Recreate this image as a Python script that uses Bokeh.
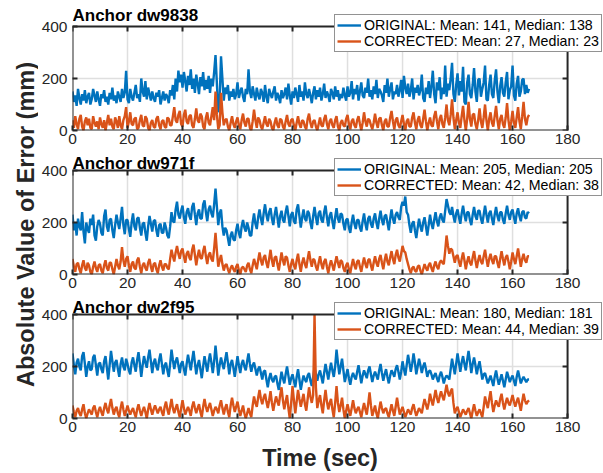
import math
from bokeh.plotting import figure
from bokeh.layouts import row, column
from bokeh.models import Legend, LegendItem, Label, FixedTicker, Range1d
from bokeh.embed import file_html
from bokeh.resources import INLINE

FONT = "Liberation Sans"
BLUE = "#0072BD"
ORANGE = "#D95319"
AX = "#262626"
GRID = "#dfdfdf"

anchors = ["dw9838", "dw971f", "dw2f95"]
orig_mean = [141, 205, 180]
orig_median = [138, 205, 181]
corr_mean = [27, 42, 44]
corr_median = [23, 38, 39]
x_lim = [0, 180]
y_lim = [0, 400]
x_ticks = [0, 20, 40, 60, 80, 100, 120, 140, 160, 180]
y_ticks = [0, 200, 400]
DT = 0.5  # sampling step of the series (sec)

orig_dw9838 = [
    150, 110, 135, 95, 160, 125, 100, 140, 115, 155, 105, 130, 145, 100, 120, 160, 135, 110, 150, 120,
    95, 140, 125, 155, 110, 130, 100, 145, 120, 165, 115, 135, 105, 150, 130, 110, 160, 125, 145, 230,
    120, 105, 160, 130, 115, 145, 175, 125, 140, 110, 200, 150, 130, 190, 120, 165, 140, 115, 150, 125,
    110, 145, 130, 155, 100, 125, 150, 115, 140, 130, 105, 155, 135, 175, 120, 200, 150, 230, 185, 215,
    165, 225, 190, 150, 210, 175, 235, 160, 200, 145, 215, 180, 140, 205, 170, 225, 155, 195, 160, 210,
    145, 200, 170, 225, 290, 180, 70, 120, 285, 200, 115, 165, 140, 175, 115, 150, 130, 160, 120, 140,
    185, 125, 150, 165, 130, 110, 160, 140, 235, 150, 125, 170, 140, 115, 165, 135, 120, 160, 145, 110,
    175, 130, 105, 160, 140, 125, 150, 170, 115, 145, 130, 105, 155, 125, 140, 165, 120, 180, 135, 100,
    150, 125, 165, 140, 110, 175, 130, 150, 115, 185, 140, 125, 160, 135, 105, 145, 170, 120, 155, 130,
    165, 115, 140, 180, 125, 150, 135, 110, 160, 145, 120, 170, 130, 155, 115, 140, 125, 165, 135, 115,
    170, 130, 145, 190, 120, 160, 140, 175, 115, 150, 185, 135, 125, 165, 145, 200, 130, 155, 120, 170,
    140, 195, 125, 160, 150, 135, 110, 175, 145, 200, 130, 160, 185, 120, 150, 140, 175, 130, 155, 195,
    125, 210, 165, 140, 180, 130, 155, 200, 120, 165, 145, 175, 135, 155, 215, 125, 110, 165, 140, 190,
    125, 170, 230, 140, 105, 185, 155, 205, 120, 165, 140, 250, 130, 180, 155, 200, 260, 140, 110, 175,
    220, 135, 190, 150, 245, 110, 100, 185, 215, 140, 125, 175, 240, 150, 110, 195, 200, 130, 160, 185,
    250, 120, 115, 175, 215, 140, 125, 190, 235, 150, 105, 170, 205, 145, 130, 185, 225, 120, 155, 170,
    250, 135, 115, 180, 210, 130, 150, 195, 200, 140, 175, 145, 160,
]
corr_dw9838 = [
    40, 10, 55, 25, 5, 45, 60, 15, 0, 35, 50, 20, 45, 10, 5, 55, 30, 15, 35, 5,
    50, 25, 10, 40, 0, 30, 60, 20, 45, 15, 5, 50, 35, 10, 55, 20, 5, 40, 55, 90,
    10, 35, 70, 25, 20, 45, 50, 5, 10, 40, 60, 20, 15, 55, 45, 10, 0, 30, 40, 15,
    10, 45, 55, 20, 5, 35, 40, 15, 10, 50, 45, 20, 20, 55, 90, 40, 30, 60, 75, 25,
    15, 60, 80, 35, 25, 55, 60, 20, 10, 45, 85, 40, 30, 65, 55, 15, 5, 50, 70, 30,
    20, 55, 90, 40, 150, 60, 5, 20, 145, 70, 20, 40, 45, 15, 0, 30, 55, 25, 10, 35,
    50, 20, 5, 40, 65, 30, 15, 45, 45, 10, 0, 35, 80, 40, 10, 50, 40, 15, 5, 30,
    55, 25, 15, 45, 35, 10, 0, 30, 50, 20, 10, 45, 40, 15, 5, 35, 60, 25, 15, 40,
    45, 20, 0, 30, 55, 25, 10, 40, 35, 15, 5, 45, 65, 30, 10, 35, 40, 15, 0, 25,
    50, 20, 15, 45, 60, 25, 5, 35, 45, 20, 10, 40, 55, 15, 0, 30, 40, 20, 15, 45,
    60, 25, 5, 35, 45, 20, 10, 40, 55, 25, 0, 30, 70, 35, 15, 45, 40, 20, 5, 30,
    65, 30, 10, 45, 50, 20, 0, 35, 45, 15, 15, 50, 75, 35, 5, 40, 50, 20, 10, 35,
    60, 25, 0, 35, 45, 15, 15, 50, 70, 30, 5, 40, 55, 20, 10, 45, 80, 35, 0, 30,
    50, 20, 15, 55, 75, 35, 5, 45, 60, 25, 10, 50, 100, 40, 20, 60, 120, 50, 5, 40,
    70, 30, 10, 55, 95, 40, 0, 45, 110, 45, 15, 60, 65, 25, 5, 40, 85, 35, 10, 50,
    100, 40, 0, 45, 70, 30, 15, 55, 95, 40, 5, 45, 60, 25, 10, 50, 105, 40, 0, 35,
    75, 30, 10, 50, 90, 35, 5, 55, 110, 45, 20, 50, 60,
]
orig_dw971f = [
    230, 170, 200, 150, 215, 185, 170, 240, 165, 120, 200, 175, 160, 215, 190, 230, 150, 130, 185, 210,
    195, 160, 150, 225, 250, 185, 165, 210, 215, 170, 140, 190, 230, 200, 175, 215, 260, 190, 155, 210,
    210, 175, 145, 200, 235, 185, 170, 215, 220, 180, 150, 195, 200, 160, 130, 185, 225, 195, 165, 205,
    210, 170, 145, 190, 195, 160, 160, 200, 180, 150, 140, 185, 240, 205, 200, 250, 280, 230, 215, 245,
    265, 220, 195, 240, 255, 225, 210, 260, 275, 230, 190, 235, 250, 215, 215, 270, 285, 240, 205, 250,
    265, 235, 220, 270, 330, 260, 190, 235, 250, 185, 150, 180, 170, 140, 110, 150, 165, 135, 130, 170,
    195, 160, 140, 185, 210, 180, 165, 200, 180, 150, 150, 200, 235, 195, 175, 220, 250, 215, 190, 235,
    270, 230, 205, 240, 255, 215, 190, 230, 260, 220, 180, 225, 245, 210, 200, 240, 265, 225, 185, 230,
    240, 205, 195, 250, 270, 225, 180, 220, 250, 215, 205, 245, 235, 200, 175, 225, 260, 220, 190, 235,
    245, 210, 200, 240, 265, 220, 185, 225, 240, 205, 175, 220, 255, 215, 200, 235, 230, 195, 170, 210,
    215, 180, 160, 200, 230, 195, 175, 210, 210, 180, 165, 205, 235, 195, 170, 215, 225, 195, 180, 215,
    235, 200, 175, 215, 245, 210, 190, 225, 230, 200, 170, 215, 250, 215, 195, 230, 240, 220, 210, 260,
    280, 265, 300, 240, 230, 190, 160, 195, 205, 170, 140, 180, 215, 185, 165, 200, 220, 185, 150, 190,
    230, 195, 175, 210, 240, 205, 185, 220, 235, 210, 200, 245, 290, 265, 240, 230, 260, 225, 200, 235,
    250, 220, 195, 235, 265, 230, 205, 240, 240, 210, 190, 230, 260, 225, 210, 245, 245, 215, 195, 230,
    265, 230, 200, 235, 245, 215, 190, 230, 260, 225, 205, 240, 240, 210, 195, 235, 265, 230, 210, 240,
    250, 220, 195, 235, 255, 225, 205, 240, 245, 220, 215, 240, 235,
]
corr_dw971f = [
    60, 30, 10, 40, 45, 20, 5, 35, 55, 25, 15, 45, 35, 10, 0, 30, 50, 25, 10, 35,
    40, 15, 5, 35, 55, 25, 15, 45, 45, 20, 0, 30, 60, 35, 20, 50, 105, 55, 30, 60,
    70, 35, 10, 40, 50, 25, 20, 55, 65, 30, 5, 35, 45, 25, 15, 45, 60, 30, 10, 40,
    45, 20, 5, 35, 55, 30, 15, 40, 40, 25, 20, 60, 95, 70, 50, 85, 110, 80, 60, 90,
    100, 70, 45, 80, 90, 65, 55, 95, 115, 75, 35, 70, 95, 65, 60, 90, 110, 70, 40, 75,
    85, 60, 50, 100, 160, 90, 30, 55, 75, 40, 15, 35, 40, 20, 5, 25, 35, 20, 10, 30,
    40, 15, 0, 25, 30, 20, 10, 35, 45, 20, 5, 35, 60, 40, 20, 55, 85, 55, 35, 65,
    75, 45, 25, 60, 95, 55, 30, 65, 70, 40, 15, 50, 85, 55, 35, 70, 65, 35, 10, 40,
    60, 35, 20, 55, 80, 40, 10, 45, 65, 40, 25, 60, 90, 55, 30, 60, 55, 30, 15, 45,
    70, 40, 20, 50, 60, 30, 5, 35, 55, 35, 15, 45, 70, 45, 25, 55, 50, 25, 10, 35,
    45, 20, 5, 35, 60, 35, 20, 50, 55, 30, 10, 40, 65, 40, 25, 55, 60, 35, 15, 45,
    70, 45, 30, 60, 75, 45, 20, 55, 80, 50, 35, 65, 90, 60, 40, 75, 95, 65, 50, 80,
    110, 90, 85, 60, 40, 20, 5, 25, 30, 15, 10, 30, 35, 15, 0, 20, 40, 25, 15, 35,
    45, 25, 10, 35, 50, 30, 20, 45, 55, 45, 40, 90, 150, 110, 80, 100, 95, 70, 45, 70,
    75, 50, 30, 60, 85, 55, 20, 50, 70, 45, 35, 65, 90, 55, 25, 55, 75, 50, 40, 70,
    95, 60, 30, 60, 80, 55, 40, 70, 70, 45, 25, 60, 90, 60, 35, 65, 75, 50, 20, 50,
    85, 60, 40, 70, 100, 65, 30, 60, 80, 55, 45, 70, 70,
]
orig_dw2f95 = [
    250, 205, 170, 215, 230, 200, 185, 240, 255, 210, 160, 200, 220, 185, 190, 235, 245, 205, 165, 210,
    215, 190, 175, 220, 240, 195, 150, 205, 260, 220, 180, 215, 225, 190, 160, 210, 235, 200, 185, 230,
    210, 185, 170, 215, 235, 205, 180, 225, 255, 210, 160, 205, 240, 215, 195, 235, 265, 220, 175, 215,
    230, 200, 185, 225, 250, 210, 170, 205, 215, 185, 160, 210, 265, 225, 190, 220, 235, 205, 175, 210,
    220, 190, 165, 210, 245, 215, 185, 225, 260, 215, 170, 205, 225, 190, 155, 200, 240, 210, 180, 220,
    250, 215, 175, 220, 280, 225, 165, 205, 235, 210, 190, 225, 255, 215, 170, 210, 225, 195, 160, 200,
    240, 205, 175, 210, 225, 200, 185, 220, 250, 210, 180, 205, 215, 190, 165, 190, 200, 175, 150, 180,
    185, 150, 120, 155, 175, 150, 140, 160, 165, 135, 110, 145, 180, 155, 135, 170, 200, 165, 130, 155,
    170, 145, 120, 160, 190, 150, 110, 140, 165, 150, 140, 165, 175, 145, 125, 160, 195, 170, 145, 170,
    185, 160, 135, 175, 210, 180, 150, 185, 215, 185, 160, 200, 265, 215, 170, 200, 230, 185, 140, 165,
    190, 155, 130, 160, 175, 160, 150, 180, 205, 170, 135, 165, 185, 170, 155, 185, 200, 170, 140, 165,
    180, 165, 150, 185, 210, 175, 145, 170, 190, 160, 135, 165, 185, 175, 160, 190, 205, 180, 150, 180,
    220, 190, 165, 205, 245, 215, 180, 210, 250, 215, 170, 200, 230, 205, 175, 200, 215, 190, 160, 180,
    185, 170, 150, 165, 175, 155, 140, 165, 180, 160, 135, 155, 165, 160, 150, 190, 230, 200, 170, 210,
    250, 215, 180, 215, 240, 210, 185, 225, 260, 220, 175, 210, 235, 205, 170, 200, 220, 185, 150, 170,
    175, 155, 135, 150, 165, 145, 125, 160, 185, 155, 130, 150, 170, 145, 120, 150, 180, 160, 140, 155,
    165, 145, 125, 160, 185, 160, 135, 150, 160, 150, 140, 150, 150,
]
corr_dw2f95 = [
    50, 25, 5, 30, 40, 20, 10, 35, 55, 20, 0, 20, 35, 25, 15, 40, 50, 25, 5, 30,
    45, 25, 10, 40, 60, 35, 20, 50, 75, 40, 15, 35, 45, 20, 5, 40, 65, 35, 10, 30,
    50, 30, 15, 30, 40, 20, 5, 35, 55, 30, 10, 30, 45, 25, 0, 35, 60, 35, 15, 35,
    50, 35, 20, 35, 45, 25, 10, 45, 65, 35, 15, 45, 75, 40, 20, 40, 55, 25, 5, 40,
    70, 40, 15, 30, 45, 30, 10, 45, 65, 40, 20, 40, 55, 25, 5, 45, 75, 45, 25, 45,
    60, 35, 10, 30, 45, 35, 20, 50, 70, 40, 15, 40, 55, 25, 5, 50, 80, 50, 25, 45,
    65, 35, 10, 30, 50, 20, 0, 20, 40, 20, 5, 50, 85, 60, 45, 80, 110, 75, 55, 80,
    95, 65, 40, 70, 105, 60, 30, 60, 85, 65, 50, 90, 120, 70, 35, 65, 90, 40, 0, 60,
    125, 70, 20, 65, 110, 75, 45, 70, 95, 55, 30, 75, 120, 85, 60, 90, 400, 120, 40, 70,
    90, 50, 20, 70, 110, 65, 35, 60, 75, 35, 5, 60, 125, 60, 25, 50, 80, 35, 0, 30,
    55, 30, 10, 40, 70, 40, 20, 35, 45, 25, 5, 35, 60, 35, 15, 55, 100, 50, 10, 30,
    50, 20, 0, 35, 65, 40, 20, 35, 40, 20, 5, 30, 55, 30, 10, 45, 80, 45, 15, 30,
    45, 25, 5, 20, 35, 25, 15, 40, 55, 30, 10, 25, 40, 30, 20, 50, 75, 55, 35, 60,
    95, 70, 50, 80, 110, 80, 60, 85, 105, 85, 70, 100, 130, 100, 85, 105, 115, 60, 20, 35,
    45, 25, 5, 20, 35, 25, 15, 30, 40, 20, 0, 30, 55, 30, 10, 25, 35, 20, 5, 45,
    85, 60, 40, 75, 105, 60, 25, 50, 70, 55, 45, 75, 95, 60, 35, 60, 80, 60, 50, 70,
    90, 65, 45, 65, 80, 55, 30, 65, 95, 70, 55, 65, 70,
]

orig_series = [orig_dw9838, orig_dw971f, orig_dw2f95]
corr_series = [corr_dw9838, corr_dw971f, corr_dw2f95]

# ---- layout (pixels) ----
LAB_W = 38          # width of the y-label strip
PANEL_W = 565       # width of each panel canvas
BORDER_L = 33       # room for the y tick labels
BOX_W = 496         # pixel width of the 0..180 box
BOX_H = 104         # pixel height of the 0..400 box
FRAME_H = [130, 122, 122]   # frame heights (box + room for title / legend above)
TITLE_DY = [11, 7, 7]       # title offset above the box
BORDER_B = 22       # room for the x tick labels
XLAB_H = 32
frame_w = PANEL_W - BORDER_L
x_end = x_lim[1] * frame_w / BOX_W
TOTAL_H = sum(FRAME_H) + 3 * BORDER_B + XLAB_H


def make_panel(i):
    y_end = y_lim[1] * FRAME_H[i] / BOX_H
    p = figure(width=PANEL_W, height=FRAME_H[i] + BORDER_B,
               x_range=Range1d(x_lim[0], x_end), y_range=Range1d(y_lim[0], y_end),
               toolbar_location=None, output_backend="svg",
               min_border_left=BORDER_L, min_border_right=0,
               min_border_top=0, min_border_bottom=BORDER_B)
    p.outline_line_color = None
    p.background_fill_color = "white"
    p.border_fill_color = "white"
    p.grid.visible = False

    p.xaxis.ticker = FixedTicker(ticks=x_ticks)
    p.yaxis.ticker = FixedTicker(ticks=y_ticks)
    for ax in (p.xaxis[0], p.yaxis[0]):
        ax.axis_line_color = None
        ax.major_tick_in = 5
        ax.major_tick_out = 0
        ax.major_tick_line_color = AX
        ax.major_tick_line_width = 2
        ax.minor_tick_line_color = None
        ax.major_label_text_font = FONT
        ax.major_label_text_font_size = "15.5px"
        ax.major_label_text_color = AX
    p.xaxis.major_label_standoff = 3
    p.yaxis.major_label_standoff = 5

    # grid lines inside the 0..180 x 0..400 box
    inner = x_ticks[1:-1]
    p.segment(x0=inner, y0=[y_lim[0]] * len(inner), x1=inner, y1=[y_lim[1]] * len(inner),
              line_color=GRID, line_width=1.5)
    p.segment(x0=[x_lim[0]], y0=[y_ticks[1]], x1=[x_lim[1]], y1=[y_ticks[1]],
              line_color=GRID, line_width=1.5)

    o = orig_series[i]
    c = corr_series[i]
    r1 = p.line([k * DT for k in range(len(o))], o, line_color=BLUE, line_width=2.4)
    r2 = p.line([k * DT for k in range(len(c))], c, line_color=ORANGE, line_width=2.4)

    # box and inner ticks on top / right
    p.quad(left=[x_lim[0]], right=[x_lim[1]], bottom=[y_lim[0]], top=[y_lim[1]],
           fill_color=None, line_color=AX, line_width=2)
    p.ray(x=x_ticks, y=[y_lim[1]] * len(x_ticks), length=5, length_units="screen",
          angle=-math.pi / 2, line_color=AX, line_width=2)
    p.ray(x=[x_lim[1]] * len(y_ticks), y=y_ticks, length=5, length_units="screen",
          angle=math.pi, line_color=AX, line_width=2)

    p.add_layout(Label(x=x_lim[0], y=y_lim[1], x_offset=0, y_offset=TITLE_DY[i],
                       text="Anchor " + anchors[i], text_font=FONT, text_font_size="17px",
                       text_font_style="bold", text_color="black",
                       text_baseline="alphabetic", text_align="left"))

    legend = Legend(items=[
        LegendItem(label="ORIGINAL: Mean: %d, Median: %d" % (orig_mean[i], orig_median[i]), renderers=[r1]),
        LegendItem(label="CORRECTED: Mean: %d, Median: %d" % (corr_mean[i], corr_median[i]), renderers=[r2]),
    ], location=(262, 78))
    legend.label_text_font = FONT
    legend.label_text_font_size = "14.2px"
    legend.label_text_color = "black"
    legend.border_line_color = AX
    legend.border_line_width = 1.5
    legend.background_fill_color = "white"
    legend.background_fill_alpha = 1
    legend.padding = 2
    legend.spacing = 0
    legend.margin = 0
    legend.label_height = 16
    legend.glyph_height = 16
    legend.glyph_width = 24
    legend.label_standoff = 3
    p.add_layout(legend)
    return p


panels = [make_panel(i) for i in range(3)]

xlab = figure(width=PANEL_W, height=XLAB_H, x_range=Range1d(x_lim[0], x_end),
              y_range=Range1d(0, XLAB_H), toolbar_location=None, output_backend="svg",
              min_border_left=BORDER_L, min_border_right=0, min_border_top=0, min_border_bottom=0)
xlab.xaxis.visible = False
xlab.yaxis.visible = False
xlab.grid.visible = False
xlab.outline_line_color = None
xlab.add_layout(Label(x=(x_lim[0] + x_lim[1]) / 2, y=15, text="Time (sec)", text_align="center",
                      text_baseline="alphabetic", text_font=FONT, text_font_size="23.5px",
                      text_font_style="bold", text_color=AX))

lab = figure(width=LAB_W, height=TOTAL_H, x_range=Range1d(0, LAB_W), y_range=Range1d(0, TOTAL_H),
             toolbar_location=None, output_backend="svg", min_border=0)
lab.xaxis.visible = False
lab.yaxis.visible = False
lab.grid.visible = False
lab.outline_line_color = None
lab.add_layout(Label(x=25, y=TOTAL_H - 224, text="Absolute Value of Error (mm)", angle=math.pi / 2,
                     text_align="center", text_baseline="middle", text_font=FONT,
                     text_font_size="23.5px", text_font_style="bold", text_color=AX))

layout = row(lab, column(*panels, xlab, spacing=0), spacing=0)
open("out.html", "w").write(file_html(layout, INLINE))
